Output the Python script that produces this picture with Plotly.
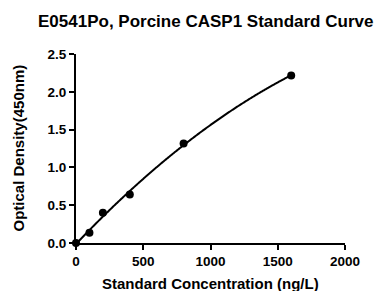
import numpy as np
import plotly.graph_objects as go

conc = [0, 100, 200, 400, 800, 1600]
od = [0.0, 0.137, 0.40, 0.64, 1.316, 2.216]
x_ticks = [0, 500, 1000, 1500, 2000]
y_ticks = [0.0, 0.5, 1.0, 1.5, 2.0, 2.5]

coef = np.polyfit(conc, od, 2)
xf = np.linspace(0, max(conc), 300)
yf = np.polyval(coef, xf)

fig = go.Figure()
fig.add_trace(go.Scatter(x=xf, y=yf, mode="lines",
                         line=dict(color="black", width=2, simplify=False),
                         cliponaxis=False, hoverinfo="skip"))
fig.add_trace(go.Scatter(x=conc, y=od, mode="markers",
                         marker=dict(color="black", size=8), cliponaxis=False))

font = "Liberation Sans, Arial, sans-serif"
axis_common = dict(showgrid=False, zeroline=False, showline=True,
                   linecolor="black", linewidth=2, ticks="outside",
                   ticklen=5, tickwidth=2, tickcolor="black", automargin=False,
                   tickfont=dict(family=font, size=13.5, color="black"))
fig.update_layout(
    width=375, height=283,
    margin=dict(l=68, r=38, t=46, b=48),
    paper_bgcolor="white", plot_bgcolor="white",
    showlegend=False,
    xaxis=dict(range=[0, 2000], tickvals=x_ticks,
               ticktext=["<b>%d</b>" % v for v in x_ticks], **axis_common),
    yaxis=dict(range=[0, 2.5], tickvals=y_ticks,
               ticktext=["<b>%.1f</b>" % v for v in y_ticks], **axis_common),
    annotations=[
        dict(text="<b>E0541Po, Porcine CASP1 Standard Curve</b>",
             xref="paper", yref="paper", x=0.482, y=1, yshift=33,
             xanchor="center", yanchor="middle", showarrow=False,
             font=dict(family=font, size=17, color="black")),
        dict(text="<b>Standard Concentration (ng/L)</b>",
             xref="paper", yref="paper", x=0.5, y=0, yshift=-40,
             xanchor="center", yanchor="middle", showarrow=False,
             font=dict(family=font, size=15, color="black")),
        dict(text="<b>Optical Density(450nm)</b>", textangle=-90,
             xref="paper", yref="paper", x=0, xshift=-58, y=0.5,
             xanchor="center", yanchor="middle", showarrow=False,
             font=dict(family=font, size=15, color="black")),
    ],
)
fig.write_html("out.html")
